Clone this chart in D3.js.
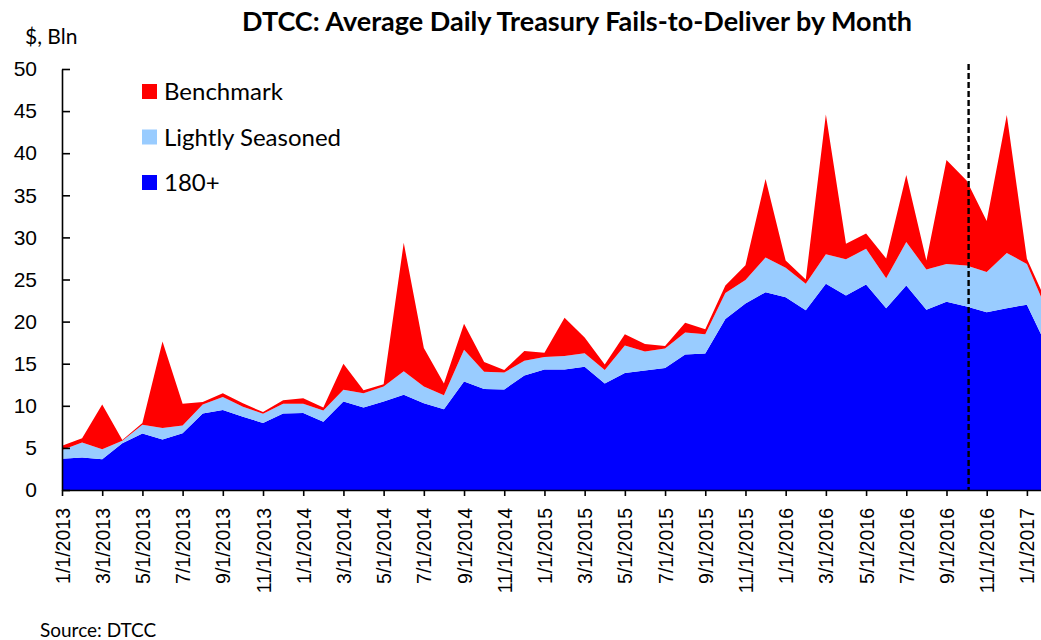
<!DOCTYPE html>
<html>
<head>
<meta charset="utf-8">
<script src="https://cdn.jsdelivr.net/npm/d3@7"></script>
<style>
  body { margin: 0; background: #fff; }
  svg { display: block; font-family: Lato, "Liberation Sans", sans-serif; }
</style>
</head>
<body>
<div id="chart"></div>
<script>
var svgWidth = 1041;
var svgHeight = 640;

// months on the category axis
var months = ["1/1/2013","2/1/2013","3/1/2013","4/1/2013","5/1/2013","6/1/2013","7/1/2013","8/1/2013","9/1/2013","10/1/2013","11/1/2013","12/1/2013",
  "1/1/2014","2/1/2014","3/1/2014","4/1/2014","5/1/2014","6/1/2014","7/1/2014","8/1/2014","9/1/2014","10/1/2014","11/1/2014","12/1/2014",
  "1/1/2015","2/1/2015","3/1/2015","4/1/2015","5/1/2015","6/1/2015","7/1/2015","8/1/2015","9/1/2015","10/1/2015","11/1/2015","12/1/2015",
  "1/1/2016","2/1/2016","3/1/2016","4/1/2016","5/1/2016","6/1/2016","7/1/2016","8/1/2016","9/1/2016","10/1/2016","11/1/2016","12/1/2016",
  "1/1/2017","2/1/2017"];

// $ Bln
var old180 = [3.7,3.85,3.65,5.55,6.7,6.0,6.75,9.1,9.5,8.7,7.95,9.1,
  9.15,8.1,10.5,9.8,10.5,11.3,10.3,9.6,12.9,12.0,11.95,13.6,
  14.3,14.3,14.65,12.65,13.9,14.2,14.5,16.1,16.2,20.3,22.15,23.5,
  22.9,21.35,24.5,23.1,24.4,21.6,24.3,21.4,22.35,21.8,21.1,21.6,
  22.0,17.0];
var lightlySeasoned = [1.05,1.8,1.2,0.3,1.05,1.35,0.9,1.05,1.55,1.2,1.1,1.15,
  1.1,1.35,1.4,1.7,1.8,2.8,2.0,1.65,3.75,2.05,2.0,1.75,
  1.5,1.6,1.6,1.6,3.25,2.25,2.3,2.6,2.3,3.1,2.8,4.1,
  3.5,3.15,3.5,4.3,4.25,3.55,5.15,4.8,4.5,4.85,4.8,6.55,
  4.85,4.3];
var benchmark = [0.5,0.5,5.3,0.1,0.2,10.3,2.6,0.3,0.45,0.4,0.2,0.4,
  0.65,0.35,3.1,0.35,0.25,15.25,4.55,1.4,3.1,1.15,0.3,1.15,
  0.5,4.55,1.85,0.65,1.35,0.9,0.3,1.15,0.6,0.9,1.75,9.35,
  0.85,0.5,16.6,1.85,1.8,2.35,7.95,1.05,12.35,10.1,6.05,16.4,
  0.6,0.9];

var yTicks = [0,5,10,15,20,25,30,35,40,45,50];
var seriesNames = ["180+", "Lightly Seasoned", "Benchmark"];
var seriesColors = ["#0000FF", "#99CCFF", "#FF0000"];
var legendOrder = ["Benchmark", "Lightly Seasoned", "180+"];
// dashed marker sits a little after 10/1/2016
var markerMonth = 45.1;

var rows = months.map(function(m, i) {
  return { month: m, "180+": old180[i], "Lightly Seasoned": lightlySeasoned[i], "Benchmark": benchmark[i] };
});

var svg = d3.select("#chart")
  .append("svg")
  .attr("width", svgWidth)
  .attr("height", svgHeight);

var x = d3.scalePoint()
  .domain(months)
  .range([62, 1047]);

var y = d3.scaleLinear()
  .domain([0, 50])
  .range([490, 69]);

var xIndex = d3.scaleLinear().domain([0, months.length - 1]).range(x.range());

// stacked areas
var stack = d3.stack().keys(seriesNames);
var layers = stack(rows);

var area = d3.area()
  .x(function(d) { return x(d.data.month); })
  .y0(function(d) { return y(d[0]); })
  .y1(function(d) { return y(d[1]); });

svg.append("g")
  .selectAll("path")
  .data(layers)
  .enter()
  .append("path")
  .attr("d", area)
  .attr("fill", function(d, i) { return seriesColors[i]; });

// y axis, ticks point inward
var yAxis = svg.append("g")
  .attr("transform", "translate(62,0)")
  .call(d3.axisRight(y).tickValues(yTicks).tickSize(8).tickSizeOuter(0).tickFormat(d3.format("d")));
yAxis.select(".domain").attr("stroke", "#000").attr("stroke-width", 1.6);
yAxis.selectAll(".tick line").attr("stroke", "#000").attr("stroke-width", 1.6);
yAxis.selectAll(".tick text")
  .attr("x", -25)
  .attr("text-anchor", "end")
  .attr("font-size", 21)
  .attr("fill", "#000");

// x axis, every other month labelled
var xAxis = svg.append("g")
  .attr("transform", "translate(0,490)")
  .call(d3.axisBottom(x)
    .tickValues(months.filter(function(m, i) { return i % 2 === 0; }))
    .tickSize(6)
    .tickSizeOuter(0));
xAxis.select(".domain").attr("stroke", "#000").attr("stroke-width", 1.6);
xAxis.selectAll(".tick line").attr("stroke", "#000").attr("stroke-width", 1.6);
xAxis.selectAll(".tick text")
  .attr("transform", "rotate(-90)")
  .attr("text-anchor", "end")
  .attr("x", -18)
  .attr("y", 0)
  .attr("dy", "0.36em")
  .attr("font-size", 19.5)
  .attr("fill", "#000");

// dashed marker
svg.append("line")
  .attr("x1", xIndex(markerMonth))
  .attr("x2", xIndex(markerMonth))
  .attr("y1", y(50.6))
  .attr("y2", y(0))
  .attr("stroke", "#000")
  .attr("stroke-width", 2.4)
  .attr("stroke-dasharray", "6,3");

// legend
var legend = svg.append("g")
  .selectAll("g")
  .data(legendOrder)
  .enter()
  .append("g")
  .attr("transform", function(d, i) { return "translate(142," + (84 + i * 45.5) + ")"; });

legend.append("rect")
  .attr("width", 15)
  .attr("height", 15)
  .attr("fill", function(d) { return seriesColors[seriesNames.indexOf(d)]; });

legend.append("text")
  .attr("x", 22)
  .attr("y", 16)
  .attr("font-size", 24)
  .attr("fill", "#000")
  .text(function(d) { return d; });

// title and notes
svg.append("text")
  .attr("x", 577)
  .attr("y", 31)
  .attr("text-anchor", "middle")
  .attr("font-size", 27)
  .attr("font-weight", "bold")
  .text("DTCC: Average Daily Treasury Fails-to-Deliver by Month");

svg.append("text")
  .attr("x", 25)
  .attr("y", 44)
  .attr("font-size", 21)
  .text("$, Bln");

svg.append("text")
  .attr("x", 40)
  .attr("y", 637)
  .attr("font-size", 19)
  .text("Source: DTCC");
</script>
</body>
</html>
